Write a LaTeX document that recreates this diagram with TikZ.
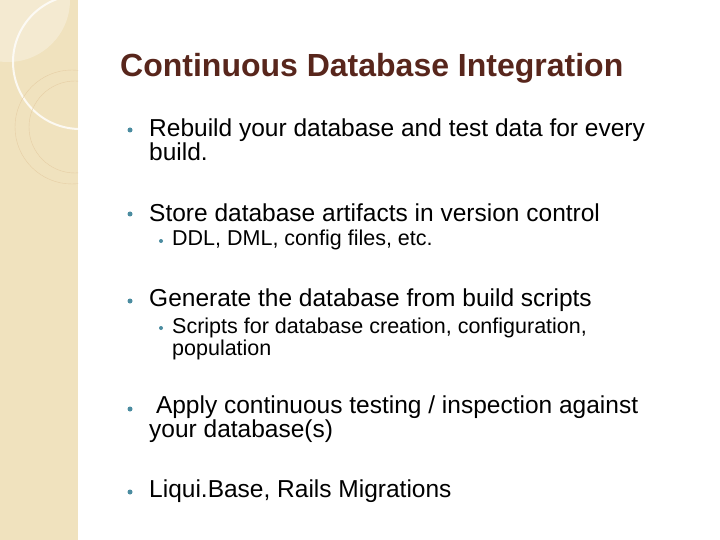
\documentclass[tikz,border=0pt]{standalone}
\usepackage{fontspec}
\setmainfont{Liberation Sans}
\definecolor{strip}{RGB}{240,226,190}
\definecolor{title}{RGB}{88,38,28}
\definecolor{bul}{RGB}{75,140,160}
\begin{document}
\begin{tikzpicture}[x=1pt,y=-1pt,
  txt/.style={anchor=west,inner sep=0pt,align=left,font=\fontsize{24.5}{22}\selectfont},
  sub/.style={anchor=west,inner sep=0pt,align=left,font=\fontsize{21.5}{21.5}\selectfont},
  dot/.style={circle,fill=bul,inner sep=0pt,minimum size=5pt}]
\useasboundingbox (0,0) rectangle (720,540);
\fill[white] (0,0) rectangle (720,540);
\begin{scope}
\clip (0,0) rectangle (78,540);
\fill[strip] (0,0) rectangle (78,540);
\fill[white,opacity=0.3] (8,0) circle (62);
\draw[white,opacity=0.8,line width=2pt] (80,62) circle (67);
\draw[strip!80!brown,line width=0.4pt] (72,127) circle (57);
\draw[strip!80!brown,line width=0.4pt] (75,127) circle (46);
\end{scope}
\node[anchor=west,inner sep=0pt,font=\fontsize{32}{32}\selectfont\bfseries,text=title] (t) at (120,68) {Continuous Database Integration};
\node[dot] (b1) at (130,130) {};
\node[txt,anchor=north west] (l1) at (149,119) {Rebuild your database and test data for every\\build.};
\node[dot] (b2) at (130,214) {};
\node[txt] (l2) at (149,213) {Store database artifacts in version control};
\node[dot,minimum size=4pt] (s2) at (161,241) {};
\node[sub] (m2) at (172,240) {DDL, DML, config files, etc.};
\node[dot] (b3) at (130,301) {};
\node[txt] (l3) at (149,300) {Generate the database from build scripts};
\node[dot,minimum size=4pt] (s3) at (161,328) {};
\node[sub,anchor=north west] (m3) at (172,318) {Scripts for database creation, configuration,\\population};
\node[dot] (b4) at (130,409) {};
\node[txt,anchor=north west] (l4) at (149,396) {\ Apply continuous testing / inspection against\\your database(s)};
\node[dot] (b5) at (130,492) {};
\node[txt] (l5) at (149,491) {Liqui.Base, Rails Migrations};
\end{tikzpicture}
\end{document}
